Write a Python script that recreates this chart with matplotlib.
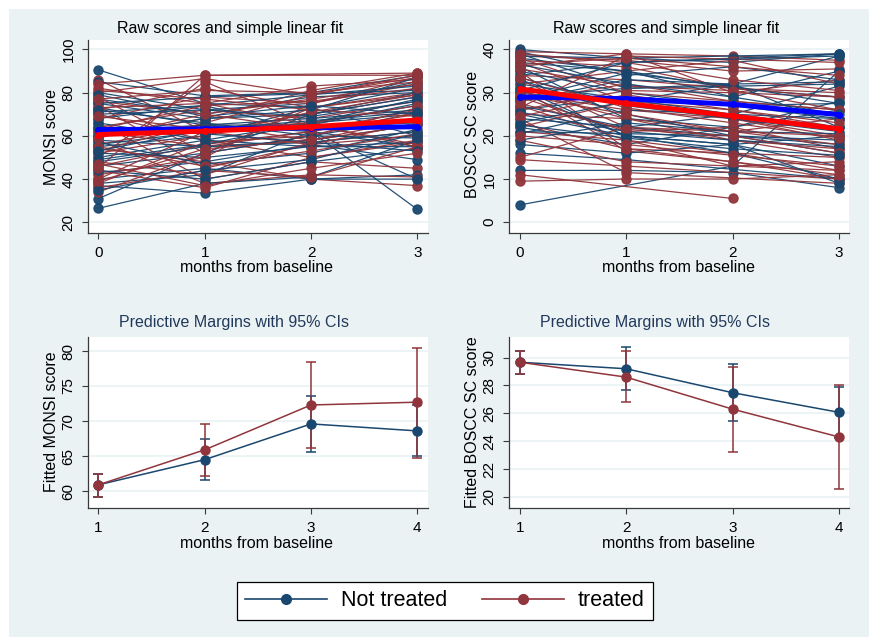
import matplotlib
matplotlib.use("Agg")
import matplotlib.pyplot as plt
from matplotlib.lines import Line2D
from matplotlib.patches import Rectangle
import numpy as np

plt.rcParams["font.family"] = ["Liberation Sans", "DejaVu Sans"]

NAVY = "#1A476F"
MAROON = "#90353B"
BG = "#EAF2F3"
TITLE_NAVY = "#22395C"

W, H = 870, 637

# raw MONSI scores per subject at months 0..3 (None = missing visit)
monsi_not_treated = [
    [90.5, 75, 73, 82], [85, 78.5, 80, 88], [80, 72, 75, 85], [77, 70, 78, 80],
    [75, 68, 70, 78], [73, 65, 65, 75], [71, 74, 62, 40], [63, 62, None, 70],
    [58, 55, 58, 65], [55, 60, 73, 60], [50, 58, 55, 55], [46, 52, 60, 68],
    [43, 48, 56, 49], [40, 45, 40, 42], [38, 42, 62, 55], [31, 52, 70, 80],
    [26.5, 38, 41, 58], [60, 65, 62, 26], [37, 33.5, 40, 40], [62, 65, 68, 72],
    [56, 62, 64, 66], [48, 55, 57, 62], [52, 50, 55, 57], [70, 72, 69, 76],
    [60, 68, 72, 87], [44, 40, 48, 54], [66, 58, 66, 74], [75, 78, None, 81],
    [68, 74, 79, 83], [57, 47, 52, 63], [72, 66, 60, 59], [49, 56, 66, 77],
    [64, 61, 57, 53], [35, 44, 49, 61], [79, 69, 74, 70], [53, 63, 67, 71],
]
monsi_treated = [
    [86, 62, 70, 78], [84, 88, None, 89], [82, 75, 83, 86], [80, 86.5, 79, 88],
    [78, 52, 60, 73], [76, 70, 77, 84], [74, 45, 56, 60], [72, 82, 73, 80],
    [70, 58, 50, 57], [68, 78, 75, 87], [66, 40, 48, 45], [64, 72, 68, 76],
    [62, 55, 62, 70], [60, 68, 81, 89], [58, 38, 42, 41], [56, 65, 58, 65],
    [54, 48, 40, 37], [52, 60, 71, 79], [50, 85, 65, 55], [48, 42, 57, 62],
    [46, 56, 62, 72], [44, 36, 50, 58], [42, 50, 75, 84], [40, 62, 56, 66],
    [38, 57, 60, 71], [36, 44, 41, 55], [34, 52, 73, 79], [45, 88, None, 88],
    [53, 66, 79, 87], [73, 75, 65, 56], [81, 77, 72, 69], [63, 74, 76, 82],
    [55, 46, 53, 61], [39, 54, 58, 68], [69, 63, 66, 74], [47, 37, 45, 52],
    [77, 81, 80, 85], [59, 70, 63, 67],
]

# raw BOSCC SC scores per subject at months 0..3
boscc_not_treated = [
    [40, 38, 37, 39], [39, 31, 32, 38.5], [38, 35, 29, 35], [36, 24, 22, 28],
    [34, 37, 38, 39], [32, 28.5, 25, 22], [30, 20, 18, 20], [28, 33, 32, 32.5],
    [26, 29, 27, 24], [24, 22, 20, 18], [22, 18, 22, 26], [20.5, 26, 25, 31.5],
    [18, 16, 18, 13], [16, 14.5, None, 10], [12, 12, 11.5, 8], [4, None, 13, 35],
    [37, 35, 31, 29], [35, 30, 27, 27.5], [33, 25, 20, 16], [31, 20, 16, 10],
    [29, 31, None, 32], [27, 22, 25, 24], [25, 20, 18, 9], [23, 28, 32, 22],
    [38.5, 38, None, 39], [21, 20.5, 20, 19], [39.5, 34, 36, 33], [33.5, 27, 24, 21],
    [28.5, 34.5, 31.5, 27.5], [25.5, 21, 19, 17.5], [36.5, 32, 29, 25],
    [19, 23, 21, 20.5], [30.5, 37, None, 38.5], [22.5, 19.5, 17, 15.5],
]
boscc_treated = [
    [39.5, 39, 38.5, 37.5], [38.5, 37.5, 35, 35.5], [37, 28, 26, 22], [36, 39, 30, 33],
    [35, 17, 16, 12], [34, 33, 31, 30], [33, 22, 19, 15], [32, 35, 37.5, 32],
    [31, 16.5, 14, 10], [30, 26, 24, 20], [29, 21, 22, 17], [28, 32, 28, 26],
    [27, 19, 13, 14], [26, 30.5, 30, 29], [25, 24, 21, 18], [24, 11.5, None, 9],
    [23, 17, 14, 11], [22, 28, 24, 19], [21, 19, 16, 15], [19, 14, None, 12],
    [15, 22, 21, 24], [14.5, 13, None, 10], [11, None, 5.5, None], [9.5, 10, 10, 11],
    [38, 30, 28, 26], [37.5, 36, 31, 29], [30.5, 24, 19, 17], [26.5, 38.5, None, 37],
    [39, 37, 33, 30.5], [35.5, 31.5, 30.5, 26], [33.5, 26.5, 23, 19.5],
    [27.5, 21.5, 20, 16], [24.5, 29.5, 26, 23], [20, 18, 15.5, 13],
    [36.5, 38, 36, 34], [29.5, 25, 21, 20],
]

raw_months = [0, 1, 2, 3]

# group fit lines drawn over the raw trajectories
monsi_fit_not_treated = [62.9, 63.2, 63.7, 64.2]
monsi_fit_treated = [60.6, 62.2, 64.2, 67.3]
boscc_fit_not_treated = [29.0, 28.6, 27.3, 24.9]
boscc_fit_treated = [30.9, 27.5, 24.6, 21.6]

# predictive margins with 95% CIs
margin_months = [1, 2, 3, 4]
monsi_m_not_treated = [60.9, 64.5, 69.6, 68.6]
monsi_lo_not_treated = [59.2, 61.6, 65.6, 65.0]
monsi_hi_not_treated = [62.5, 67.5, 73.6, 72.3]
monsi_m_treated = [60.9, 65.9, 72.3, 72.7]
monsi_lo_treated = [59.2, 62.2, 66.1, 64.8]
monsi_hi_treated = [62.5, 69.6, 78.5, 80.5]

boscc_m_not_treated = [29.67, 29.2, 27.48, 26.07]
boscc_lo_not_treated = [28.83, 27.7, 25.43, 24.2]
boscc_hi_not_treated = [30.5, 30.74, 29.52, 27.9]
boscc_m_treated = [29.67, 28.6, 26.3, 24.3]
boscc_lo_treated = [28.83, 26.8, 23.21, 20.55]
boscc_hi_treated = [30.5, 30.45, 29.36, 28.05]


def px_rect(x0, y0, x1, y1):
    return [x0 / W, 1 - y1 / H, (x1 - x0) / W, (y1 - y0) / H]


def fig_text(fig, x, y, s, **kw):
    fig.text(x / W, 1 - y / H, s, ha="center", va="center", **kw)


def style_axes(ax, yticks, xticks, xlim, ylim):
    ax.set_facecolor("white")
    for side in ("top", "right"):
        ax.spines[side].set_visible(False)
    for side in ("left", "bottom"):
        ax.spines[side].set_color("#3a3a3a")
        ax.spines[side].set_linewidth(0.9)
    ax.set_xlim(*xlim)
    ax.set_ylim(*ylim)
    ax.set_xticks(xticks)
    ax.set_yticks(yticks)
    ax.tick_params(axis="both", direction="out", length=4.5, width=0.8,
                   color="#3a3a3a", labelsize=11)
    ax.tick_params(axis="x", pad=5)
    ax.tick_params(axis="y", pad=4.5)
    for lab in ax.get_yticklabels():
        lab.set_rotation(90)
        lab.set_va("center")
    ax.grid(axis="y", color=BG, lw=1.2)
    ax.set_axisbelow(True)


def raw_panel(ax, not_treated, treated, fit_nt, fit_t):
    series = []
    for a, b in zip(not_treated, treated):
        series += [(a, NAVY), (b, MAROON)]
    series += [(s, NAVY) for s in not_treated[len(treated):]]
    series += [(s, MAROON) for s in treated[len(not_treated):]]
    for vals, color in series:
        v = np.array([np.nan if x is None else x for x in vals], dtype=float)
        ok = ~np.isnan(v)
        ax.plot(np.array(raw_months)[ok], v[ok], color=color, lw=0.9,
                marker="o", ms=6.5, mec=color, mfc=color, alpha=0.95)
    ax.plot(raw_months, fit_nt, color="#0000FF", lw=3.6, marker="o", ms=4,
            solid_capstyle="butt", zorder=5)
    ax.plot(raw_months, fit_t, color="#FF0000", lw=3.6, marker="o", ms=4,
            solid_capstyle="butt", zorder=6)


def margins_panel(ax, m_nt, lo_nt, hi_nt, m_t, lo_t, hi_t):
    for m, lo, hi, color in ((m_nt, lo_nt, hi_nt, NAVY), (m_t, lo_t, hi_t, MAROON)):
        m = np.array(m)
        yerr = [m - np.array(lo), np.array(hi) - m]
        ax.errorbar(margin_months, m, yerr=yerr, fmt="none", ecolor=color,
                    elinewidth=1.1, capsize=3.8, capthick=1.1, zorder=3)
    for m, color in ((m_nt, NAVY), (m_t, MAROON)):
        ax.plot(margin_months, m, color=color, lw=1.1, marker="o", ms=6.5,
                mec=color, mfc=color, zorder=4)


fig = plt.figure(figsize=(W / 100, H / 100), dpi=100, facecolor="white")
fig.patches.append(Rectangle((9 / W, -0.1), 1.2, 1.1 - 9 / H, transform=fig.transFigure,
                             facecolor=BG, edgecolor="none", zorder=-10))

ax1 = fig.add_axes(px_rect(88, 40, 428, 233))
raw_panel(ax1, monsi_not_treated, monsi_treated, monsi_fit_not_treated, monsi_fit_treated)
style_axes(ax1, [20, 40, 60, 80, 100], [0, 1, 2, 3], (-0.097, 3.1), (15.1, 104.3))

ax2 = fig.add_axes(px_rect(509, 40, 849, 233))
raw_panel(ax2, boscc_not_treated, boscc_treated, boscc_fit_not_treated, boscc_fit_treated)
style_axes(ax2, [0, 10, 20, 30, 40], [0, 1, 2, 3], (-0.1, 3.094), (-2.5, 42.2))

ax3 = fig.add_axes(px_rect(88, 337, 428, 508))
margins_panel(ax3, monsi_m_not_treated, monsi_lo_not_treated, monsi_hi_not_treated,
              monsi_m_treated, monsi_lo_treated, monsi_hi_treated)
style_axes(ax3, [60, 65, 70, 75, 80], [1, 2, 3, 4], (0.903, 4.1), (57.6, 82.0))

ax4 = fig.add_axes(px_rect(509, 337, 849, 508))
margins_panel(ax4, boscc_m_not_treated, boscc_lo_not_treated, boscc_hi_not_treated,
              boscc_m_treated, boscc_lo_treated, boscc_hi_treated)
style_axes(ax4, [20, 22, 24, 26, 28, 30], [1, 2, 3, 4], (0.9, 4.094), (19.2, 31.48))

# titles and axis titles
fig_text(fig, 230, 28, "Raw scores and simple linear fit", fontsize=11.5, color="black")
fig_text(fig, 666, 29, "Raw scores and simple linear fit", fontsize=11.5, color="black")
fig_text(fig, 234, 323, "Predictive Margins with 95% CIs", fontsize=11.5, color=TITLE_NAVY)
fig_text(fig, 655, 323, "Predictive Margins with 95% CIs", fontsize=11.5, color=TITLE_NAVY)

for x, y in ((257, 268), (679, 268), (257, 544), (679, 543)):
    fig_text(fig, x, y, "months from baseline", fontsize=11.5)

fig_text(fig, 52, 137, "MONSI score", fontsize=11.5, rotation=90)
fig_text(fig, 473, 134, "BOSCC SC score", fontsize=11.5, rotation=90)
fig_text(fig, 52, 422, "Fitted MONSI score", fontsize=11.5, rotation=90)
fig_text(fig, 473, 422, "Fitted BOSCC SC score", fontsize=11.5, rotation=90)

handles = [
    Line2D([], [], color=NAVY, lw=1.2, marker="o", ms=7, mfc=NAVY, mec=NAVY),
    Line2D([], [], color=MAROON, lw=1.2, marker="o", ms=7, mfc=MAROON, mec=MAROON),
]
leg = fig.legend(handles, ["Not treated", "treated"], loc="center",
                 bbox_to_anchor=(445 / W, 1 - 601 / H), ncol=2, fontsize=15.5,
                 frameon=True, fancybox=False, framealpha=1, edgecolor="black",
                 handlelength=3.8, handletextpad=0.65, columnspacing=1.6,
                 borderpad=0.4, borderaxespad=0)
leg.get_frame().set_linewidth(0.9)

fig.savefig("out.png", dpi=100, facecolor=fig.get_facecolor())
